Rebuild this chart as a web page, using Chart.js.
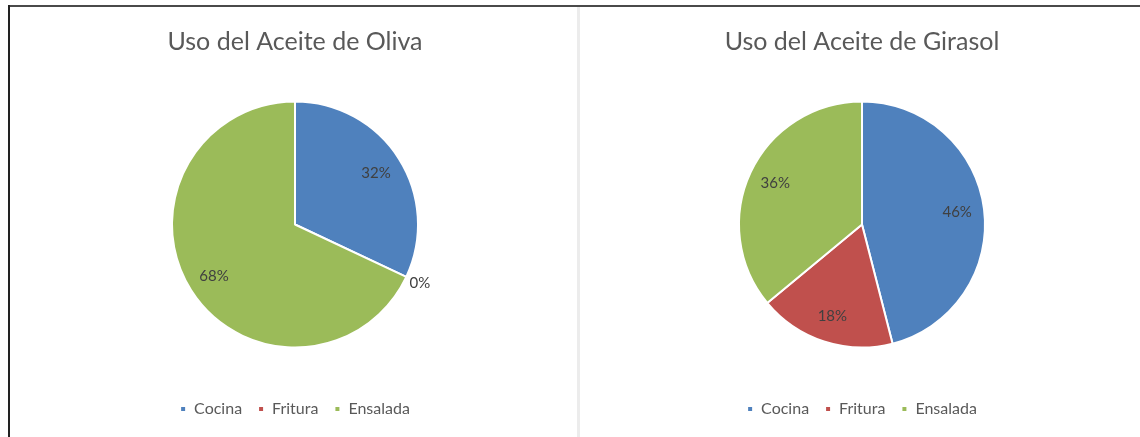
<!DOCTYPE html>
<html lang="es">
  <head>
    <meta charset="UTF-8" />
    <title>Uso del Aceite</title>
    <script src="https://cdn.jsdelivr.net/npm/chart.js"></script>
    <style>
      html, body { margin: 0; padding: 0; background: #fff; }
      body { width: 1140px; height: 437px; position: relative; overflow: hidden; }
      .frame-top { position: absolute; left: 8px; top: 5px; width: 1132px; height: 2px; background: #4a4a4a; }
      .frame-left { position: absolute; left: 8px; top: 5px; width: 2px; height: 432px; background: #222; }
      .divider { position: absolute; left: 577px; top: 7px; width: 3px; height: 430px; background: #ececec; }
      .box { position: absolute; top: 0; width: 566px; height: 437px; }
    </style>
  </head>
  <body>
    <div class="frame-top"></div>
    <div class="frame-left"></div>
    <div class="divider"></div>
    <div class="box" style="left: 12px"><canvas id="olivaChart"></canvas></div>
    <div class="box" style="left: 579px"><canvas id="girasolChart"></canvas></div>

    <script>
      // categorías y valores
      var categorias = ["Cocina", "Fritura", "Ensalada"];
      var olivaValores = [32, 0, 68];
      var girasolValores = [46, 18, 36];
      var colores = ["#4F81BD", "#C0504D", "#9BBB59"];

      // etiquetas de porcentaje sobre cada porción
      var etiquetasPlugin = {
        id: "etiquetas",
        afterDatasetsDraw: function (chart) {
          var ctx = chart.ctx;
          var meta = chart.getDatasetMeta(0);
          var datos = chart.data.datasets[0].data;
          var total = datos.reduce(function (a, b) { return a + b; }, 0);
          ctx.save();
          ctx.font = "15px Lato";
          ctx.fillStyle = "#404040";
          ctx.textAlign = "center";
          ctx.textBaseline = "middle";
          meta.data.forEach(function (arc, i) {
            var p = arc.getProps(["x", "y", "startAngle", "endAngle", "outerRadius"], true);
            var mid = (p.startAngle + p.endAngle) / 2;
            var r = datos[i] === 0 ? p.outerRadius + 15 : p.outerRadius * 0.78;
            var txt = Math.round((datos[i] / total) * 100) + "%";
            ctx.fillText(txt, p.x + Math.cos(mid) * r, p.y + Math.sin(mid) * r);
          });
          ctx.restore();
        },
      };

      function crearPie(id, titulo, valores) {
        var canvas = document.getElementById(id);
        canvas.width = 566;
        canvas.height = 437;
        new Chart(canvas.getContext("2d"), {
          type: "pie",
          data: {
            labels: categorias,
            datasets: [
              {
                data: valores,
                backgroundColor: colores,
                borderColor: "#ffffff",
                borderWidth: 2,
                radius: 123,
              },
            ],
          },
          options: {
            responsive: false,
            animation: false,
            layout: { padding: { bottom: 10 } },
            plugins: {
              title: {
                display: true,
                text: titulo,
                color: "#595959",
                font: { family: "Lato", size: 25, weight: "normal" },
                padding: { top: 27, bottom: 7 },
              },
              legend: {
                position: "bottom",
                labels: {
                  color: "#595959",
                  font: { family: "Lato", size: 16 },
                  boxWidth: 6,
                  boxHeight: 6,
                  padding: 16,
                },
              },
              tooltip: { enabled: false },
            },
          },
          plugins: [etiquetasPlugin],
        });
      }

      crearPie("olivaChart", "Uso del Aceite de Oliva", olivaValores);
      crearPie("girasolChart", "Uso del Aceite de Girasol", girasolValores);
    </script>
  </body>
</html>
